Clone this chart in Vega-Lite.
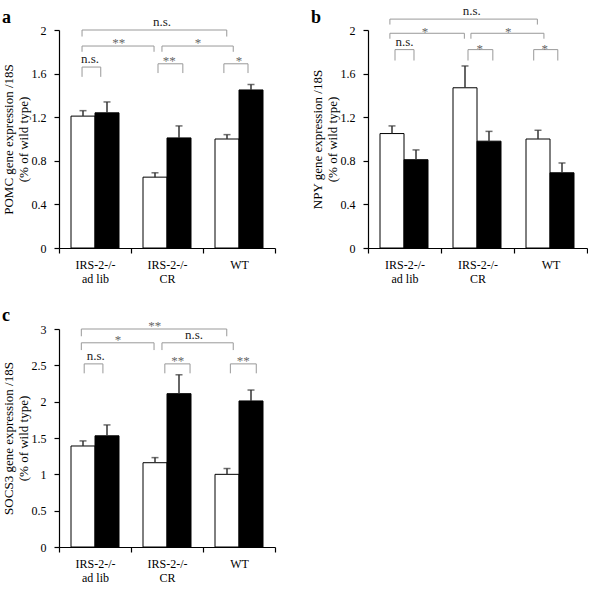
{
  "$schema": "https://vega.github.io/schema/vega-lite/v6.json",
  "background": "white",
  "padding": {"left": 1, "top": 5, "right": 0, "bottom": 0},
  "config": {
    "font": "Liberation Serif",
    "view": {"stroke": null},
    "axis": {"grid": false, "domainColor": "black", "tickColor": "black", "labelColor": "black", "titleColor": "black", "labelFont": "Liberation Serif", "titleFont": "Liberation Serif", "labelFontSize": 12, "titleFontSize": 13, "titleFontWeight": "normal", "tickSize": 5, "domainWidth": 1.2, "tickWidth": 1.2},
    "axisY": {"labelPadding": 8, "tickCount": 10, "titleX": -44, "titleY": 109, "titleLineHeight": 15.5, "format": "~g"},
    "axisX": {"labelAngle": 0, "tickBand": "extent", "labelLineHeight": 14, "labelPadding": 6, "labelBaseline": "top"},
    "title": {"font": "Liberation Serif", "fontSize": 18, "fontWeight": "bold", "anchor": "start", "frame": "bounds", "color": "black"}
  },
  "datasets": {
    "barsA": [
      {"group": "IRS-2-/-\nad lib", "bar": "open", "value": 1.21, "upper": 1.26},
      {"group": "IRS-2-/-\nad lib", "bar": "filled", "value": 1.24, "upper": 1.34},
      {"group": "IRS-2-/-\nCR", "bar": "open", "value": 0.65, "upper": 0.69},
      {"group": "IRS-2-/-\nCR", "bar": "filled", "value": 1.01, "upper": 1.12},
      {"group": "WT", "bar": "open", "value": 1.0, "upper": 1.04},
      {"group": "WT", "bar": "filled", "value": 1.45, "upper": 1.5}
    ],
    "bracketsA": [
      {"x1": 0.32, "x2": 2.33, "y": 2.0, "y0": 1.94, "xt": 1.43, "label": "n.s."},
      {"x1": 0.32, "x2": 1.32, "y": 1.853, "y0": 1.8, "xt": 0.83, "label": "**"},
      {"x1": 1.43, "x2": 2.42, "y": 1.853, "y0": 1.8, "xt": 1.93, "label": "*"},
      {"x1": 0.32, "x2": 0.58, "y": 1.66, "y0": 1.57, "xt": 0.43, "label": "n.s."},
      {"x1": 1.375, "x2": 1.72, "y": 1.69, "y0": 1.605, "xt": 1.53, "label": "**"},
      {"x1": 2.29, "x2": 2.625, "y": 1.69, "y0": 1.605, "xt": 2.5, "label": "*"}
    ],
    "barsB": [
      {"group": "IRS-2-/-\nad lib", "bar": "open", "value": 1.05, "upper": 1.12},
      {"group": "IRS-2-/-\nad lib", "bar": "filled", "value": 0.81, "upper": 0.9},
      {"group": "IRS-2-/-\nCR", "bar": "open", "value": 1.47, "upper": 1.67},
      {"group": "IRS-2-/-\nCR", "bar": "filled", "value": 0.98, "upper": 1.07},
      {"group": "WT", "bar": "open", "value": 1.0, "upper": 1.08},
      {"group": "WT", "bar": "filled", "value": 0.69, "upper": 0.78}
    ],
    "bracketsB": [
      {"x1": 0.3, "x2": 2.32, "y": 2.1, "y0": 2.05, "xt": 1.42, "label": "n.s."},
      {"x1": 0.3, "x2": 1.32, "y": 1.97, "y0": 1.92, "xt": 0.78, "label": "*"},
      {"x1": 1.41, "x2": 2.41, "y": 1.97, "y0": 1.92, "xt": 1.92, "label": "*"},
      {"x1": 0.37, "x2": 0.63, "y": 1.82, "y0": 1.72, "xt": 0.5, "label": "n.s."},
      {"x1": 1.37, "x2": 1.71, "y": 1.82, "y0": 1.72, "xt": 1.53, "label": "*"},
      {"x1": 2.27, "x2": 2.6, "y": 1.82, "y0": 1.72, "xt": 2.42, "label": "*"}
    ],
    "barsC": [
      {"group": "IRS-2-/-\nad lib", "bar": "open", "value": 1.39, "upper": 1.46},
      {"group": "IRS-2-/-\nad lib", "bar": "filled", "value": 1.53, "upper": 1.68},
      {"group": "IRS-2-/-\nCR", "bar": "open", "value": 1.16, "upper": 1.23},
      {"group": "IRS-2-/-\nCR", "bar": "filled", "value": 2.11, "upper": 2.37},
      {"group": "WT", "bar": "open", "value": 1.0, "upper": 1.08},
      {"group": "WT", "bar": "filled", "value": 2.01, "upper": 2.16}
    ],
    "bracketsC": [
      {"x1": 0.31, "x2": 2.33, "y": 3.0, "y0": 2.9, "xt": 1.33, "label": "**"},
      {"x1": 0.31, "x2": 1.32, "y": 2.81, "y0": 2.71, "xt": 0.82, "label": "*"},
      {"x1": 1.43, "x2": 2.42, "y": 2.81, "y0": 2.71, "xt": 1.875, "label": "n.s."},
      {"x1": 0.35, "x2": 0.61, "y": 2.52, "y0": 2.39, "xt": 0.51, "label": "n.s."},
      {"x1": 1.47, "x2": 1.82, "y": 2.52, "y0": 2.39, "xt": 1.65, "label": "**"},
      {"x1": 2.38, "x2": 2.74, "y": 2.52, "y0": 2.39, "xt": 2.56, "label": "**"}
    ]
  },
  "vconcat": [
    {
      "hconcat": [
        {
          "width": 216, "height": 218,
          "title": {"text": "a", "offset": -11},
          "layer": [
            {
              "data": {"name": "barsA"},
              "encoding": {
                "x": {"field": "group", "type": "nominal", "sort": null, "scale": {"paddingInner": 0, "paddingOuter": 0}, "axis": {"title": null, "labelExpr": "split(datum.label, '\\n')"}},
                "xOffset": {"field": "bar", "type": "nominal", "sort": ["open", "filled"], "scale": {"paddingInner": 0, "paddingOuter": 0.5}}
              },
              "layer": [
                {"mark": {"type": "bar", "stroke": "black", "strokeWidth": 1}, "encoding": {"y": {"field": "value", "type": "quantitative", "scale": {"domain": [0, 2]}, "axis": {"title": ["POMC gene expression /18S", "(% of wild type)"], "values": [0, 0.4, 0.8, 1.2, 1.6, 2]}}, "fill": {"field": "bar", "type": "nominal", "scale": {"domain": ["open", "filled"], "range": ["white", "black"]}, "legend": null}}},
                {"mark": {"type": "rule", "color": "#333", "strokeWidth": 1.5}, "encoding": {"y": {"field": "value", "type": "quantitative", "scale": {"domain": [0, 2]}}, "y2": {"field": "upper"}}},
                {"mark": {"type": "tick", "orient": "horizontal", "color": "#333", "thickness": 1.5, "size": 7}, "encoding": {"y": {"field": "upper", "type": "quantitative", "scale": {"domain": [0, 2]}}}}
              ]
            },
            {
              "data": {"name": "bracketsA"},
              "encoding": {"x": {"field": "x1", "type": "quantitative", "scale": {"domain": [0, 3], "nice": false, "zero": false}, "axis": null}},
              "layer": [
                {"mark": {"type": "rule", "color": "#999", "strokeWidth": 1}, "encoding": {"x2": {"field": "x2"}, "y": {"field": "y", "type": "quantitative", "scale": {"domain": [0, 2]}}}},
                {"mark": {"type": "rule", "color": "#999", "strokeWidth": 1}, "encoding": {"y": {"field": "y0", "type": "quantitative", "scale": {"domain": [0, 2]}}, "y2": {"field": "y"}}},
                {"mark": {"type": "rule", "color": "#999", "strokeWidth": 1}, "encoding": {"x": {"field": "x2", "type": "quantitative", "scale": {"domain": [0, 3], "nice": false, "zero": false}, "axis": null}, "y": {"field": "y0", "type": "quantitative", "scale": {"domain": [0, 2]}}, "y2": {"field": "y"}}},
                {"transform": [{"filter": "datum.label == 'n.s.'"}], "mark": {"type": "text", "fontSize": 13, "color": "#222", "dy": -4, "baseline": "alphabetic", "font": "Liberation Serif"}, "encoding": {"x": {"field": "xt", "type": "quantitative", "scale": {"domain": [0, 3], "nice": false, "zero": false}, "axis": null}, "y": {"field": "y", "type": "quantitative", "scale": {"domain": [0, 2]}}, "text": {"field": "label"}}},
                {"transform": [{"filter": "datum.label != 'n.s.'"}], "mark": {"type": "text", "fontSize": 13, "color": "#666", "dy": 1, "baseline": "alphabetic", "font": "Liberation Serif"}, "encoding": {"x": {"field": "xt", "type": "quantitative", "scale": {"domain": [0, 3], "nice": false, "zero": false}, "axis": null}, "y": {"field": "y", "type": "quantitative", "scale": {"domain": [0, 2]}}, "text": {"field": "label"}}}
              ]
            }
          ],
          "resolve": {"scale": {"x": "independent"}}
        },
        {
          "width": 219, "height": 218,
          "title": {"text": "b", "offset": -22},
          "layer": [
            {
              "data": {"name": "barsB"},
              "encoding": {
                "x": {"field": "group", "type": "nominal", "sort": null, "scale": {"paddingInner": 0, "paddingOuter": 0}, "axis": {"title": null, "labelExpr": "split(datum.label, '\\n')"}},
                "xOffset": {"field": "bar", "type": "nominal", "sort": ["open", "filled"], "scale": {"paddingInner": 0, "paddingOuter": 0.5}}
              },
              "layer": [
                {"mark": {"type": "bar", "stroke": "black", "strokeWidth": 1}, "encoding": {"y": {"field": "value", "type": "quantitative", "scale": {"domain": [0, 2]}, "axis": {"title": ["NPY gene expression /18S", "(% of wild type)"], "values": [0, 0.4, 0.8, 1.2, 1.6, 2]}}, "fill": {"field": "bar", "type": "nominal", "scale": {"domain": ["open", "filled"], "range": ["white", "black"]}, "legend": null}}},
                {"mark": {"type": "rule", "color": "#333", "strokeWidth": 1.5}, "encoding": {"y": {"field": "value", "type": "quantitative", "scale": {"domain": [0, 2]}}, "y2": {"field": "upper"}}},
                {"mark": {"type": "tick", "orient": "horizontal", "color": "#333", "thickness": 1.5, "size": 7}, "encoding": {"y": {"field": "upper", "type": "quantitative", "scale": {"domain": [0, 2]}}}}
              ]
            },
            {
              "data": {"name": "bracketsB"},
              "encoding": {"x": {"field": "x1", "type": "quantitative", "scale": {"domain": [0, 3], "nice": false, "zero": false}, "axis": null}},
              "layer": [
                {"mark": {"type": "rule", "color": "#999", "strokeWidth": 1}, "encoding": {"x2": {"field": "x2"}, "y": {"field": "y", "type": "quantitative", "scale": {"domain": [0, 2]}}}},
                {"mark": {"type": "rule", "color": "#999", "strokeWidth": 1}, "encoding": {"y": {"field": "y0", "type": "quantitative", "scale": {"domain": [0, 2]}}, "y2": {"field": "y"}}},
                {"mark": {"type": "rule", "color": "#999", "strokeWidth": 1}, "encoding": {"x": {"field": "x2", "type": "quantitative", "scale": {"domain": [0, 3], "nice": false, "zero": false}, "axis": null}, "y": {"field": "y0", "type": "quantitative", "scale": {"domain": [0, 2]}}, "y2": {"field": "y"}}},
                {"transform": [{"filter": "datum.label == 'n.s.'"}], "mark": {"type": "text", "fontSize": 13, "color": "#222", "dy": -4, "baseline": "alphabetic", "font": "Liberation Serif"}, "encoding": {"x": {"field": "xt", "type": "quantitative", "scale": {"domain": [0, 3], "nice": false, "zero": false}, "axis": null}, "y": {"field": "y", "type": "quantitative", "scale": {"domain": [0, 2]}}, "text": {"field": "label"}}},
                {"transform": [{"filter": "datum.label != 'n.s.'"}], "mark": {"type": "text", "fontSize": 13, "color": "#666", "dy": 3, "baseline": "alphabetic", "font": "Liberation Serif"}, "encoding": {"x": {"field": "xt", "type": "quantitative", "scale": {"domain": [0, 3], "nice": false, "zero": false}, "axis": null}, "y": {"field": "y", "type": "quantitative", "scale": {"domain": [0, 2]}}, "text": {"field": "label"}}}
              ]
            }
          ],
          "resolve": {"scale": {"x": "independent"}}
        }
      ],
      "spacing": 35
    },
    {
      "width": 216, "height": 218,
      "title": {"text": "c", "offset": -5},
      "layer": [
        {
          "data": {"name": "barsC"},
          "encoding": {
            "x": {"field": "group", "type": "nominal", "sort": null, "scale": {"paddingInner": 0, "paddingOuter": 0}, "axis": {"title": null, "labelExpr": "split(datum.label, '\\n')"}},
            "xOffset": {"field": "bar", "type": "nominal", "sort": ["open", "filled"], "scale": {"paddingInner": 0, "paddingOuter": 0.5}}
          },
          "layer": [
            {"mark": {"type": "bar", "stroke": "black", "strokeWidth": 1}, "encoding": {"y": {"field": "value", "type": "quantitative", "scale": {"domain": [0, 3]}, "axis": {"title": ["SOCS3 gene expression /18S", "(% of wild type)"], "values": [0, 0.5, 1, 1.5, 2, 2.5, 3]}}, "fill": {"field": "bar", "type": "nominal", "scale": {"domain": ["open", "filled"], "range": ["white", "black"]}, "legend": null}}},
            {"mark": {"type": "rule", "color": "#333", "strokeWidth": 1.5}, "encoding": {"y": {"field": "value", "type": "quantitative", "scale": {"domain": [0, 3]}}, "y2": {"field": "upper"}}},
            {"mark": {"type": "tick", "orient": "horizontal", "color": "#333", "thickness": 1.5, "size": 7}, "encoding": {"y": {"field": "upper", "type": "quantitative", "scale": {"domain": [0, 3]}}}}
          ]
        },
        {
          "data": {"name": "bracketsC"},
          "encoding": {"x": {"field": "x1", "type": "quantitative", "scale": {"domain": [0, 3], "nice": false, "zero": false}, "axis": null}},
          "layer": [
            {"mark": {"type": "rule", "color": "#999", "strokeWidth": 1}, "encoding": {"x2": {"field": "x2"}, "y": {"field": "y", "type": "quantitative", "scale": {"domain": [0, 3]}}}},
            {"mark": {"type": "rule", "color": "#999", "strokeWidth": 1}, "encoding": {"y": {"field": "y0", "type": "quantitative", "scale": {"domain": [0, 3]}}, "y2": {"field": "y"}}},
            {"mark": {"type": "rule", "color": "#999", "strokeWidth": 1}, "encoding": {"x": {"field": "x2", "type": "quantitative", "scale": {"domain": [0, 3], "nice": false, "zero": false}, "axis": null}, "y": {"field": "y0", "type": "quantitative", "scale": {"domain": [0, 3]}}, "y2": {"field": "y"}}},
            {"transform": [{"filter": "datum.label == 'n.s.'"}], "mark": {"type": "text", "fontSize": 13, "color": "#222", "dy": -4, "baseline": "alphabetic", "font": "Liberation Serif"}, "encoding": {"x": {"field": "xt", "type": "quantitative", "scale": {"domain": [0, 3], "nice": false, "zero": false}, "axis": null}, "y": {"field": "y", "type": "quantitative", "scale": {"domain": [0, 3]}}, "text": {"field": "label"}}},
            {"transform": [{"filter": "datum.label != 'n.s.'"}], "mark": {"type": "text", "fontSize": 13, "color": "#666", "dy": 1, "baseline": "alphabetic", "font": "Liberation Serif"}, "encoding": {"x": {"field": "xt", "type": "quantitative", "scale": {"domain": [0, 3], "nice": false, "zero": false}, "axis": null}, "y": {"field": "y", "type": "quantitative", "scale": {"domain": [0, 3]}}, "text": {"field": "label"}}}
          ]
        }
      ],
      "resolve": {"scale": {"x": "independent"}}
    }
  ],
  "spacing": 23
}
